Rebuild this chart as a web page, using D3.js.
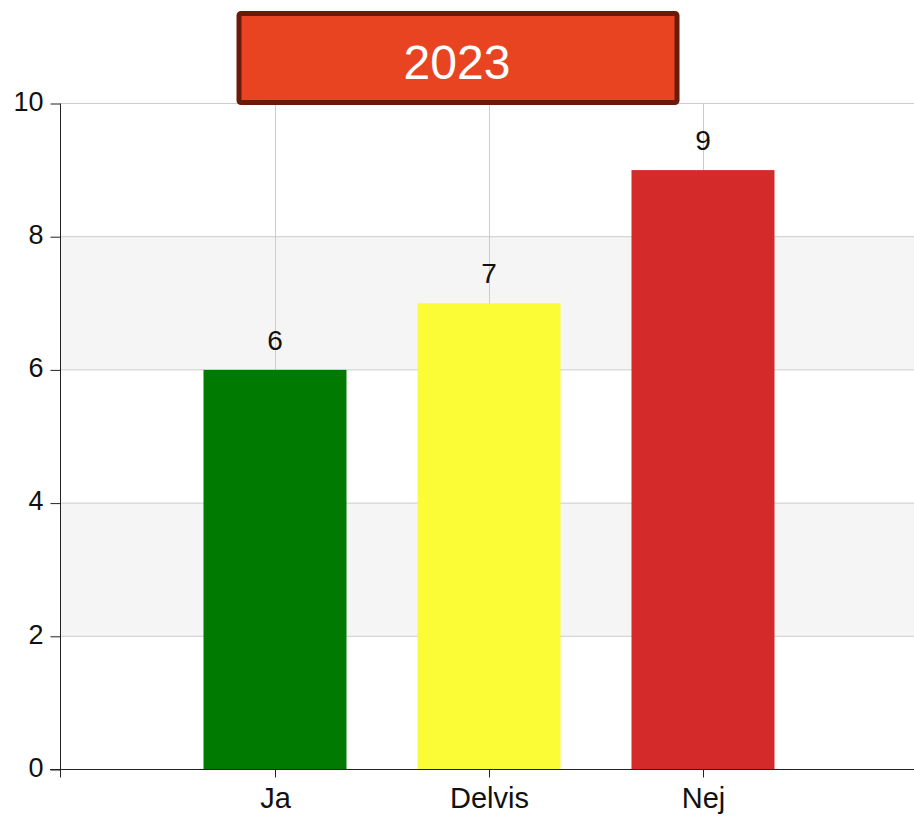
<!DOCTYPE html>
<html><head><meta charset="utf-8">
<script src="https://cdn.jsdelivr.net/npm/d3@7"></script>
<style>body{margin:0;background:#fff}svg{display:block}</style>
</head><body>
<svg id="c" width="914" height="816"></svg>
<script>
const categories = ["Ja", "Delvis", "Nej"];
const values = [6, 7, 9];
const colors = ["#007A00", "#FBFB36", "#D42A2A"];
const yTicks = [0, 2, 4, 6, 8, 10];
const title = "2023";

const FONT = "Liberation Sans, Arial, sans-serif";
const svg = d3.select("#c");
const mLeft = 61, mRight = 917, mTop = 103.5, mBottom = 769.5;
const x = d3.scaleLinear().domain([0, 4]).range([mLeft, mRight]);
const y = d3.scaleLinear().domain([0, 10]).range([mBottom, mTop]);
const barW = 143;

// alternating bands
const bands = [[2,4],[6,8]];
svg.selectAll("rect.band").data(bands).enter().append("rect")
  .attr("x", mLeft).attr("width", 914 - mLeft)
  .attr("y", d => y(d[1])).attr("height", d => y(d[0]) - y(d[1]))
  .attr("fill", "#F5F5F5");

// horizontal gridlines
svg.selectAll("line.hg").data(yTicks.slice(1)).enter().append("line")
  .attr("x1", mLeft).attr("x2", 914)
  .attr("y1", d => y(d)).attr("y2", d => y(d))
  .attr("stroke", "#CCCCCC").attr("stroke-width", 1);

// vertical gridlines
svg.selectAll("line.vg").data(categories).enter().append("line")
  .attr("x1", (d,i) => Math.round(x(i+1)) + 0.5).attr("x2", (d,i) => Math.round(x(i+1)) + 0.5)
  .attr("y1", mTop).attr("y2", mBottom)
  .attr("stroke", "#CCCCCC").attr("stroke-width", 1);

// bars
svg.selectAll("rect.bar").data(values).enter().append("rect")
  .attr("x", (d,i) => x(i+1) - barW/2).attr("width", barW)
  .attr("y", d => y(d)).attr("height", d => mBottom - y(d))
  .attr("fill", (d,i) => colors[i]);

// value labels
svg.selectAll("text.val").data(values).enter().append("text")
  .attr("x", (d,i) => x(i+1)).attr("y", d => y(d) - 20)
  .attr("text-anchor", "middle")
  .attr("font-family", FONT).attr("font-size", 28)
  .attr("fill", "#111").text(d => d);

// y axis
const yAxis = svg.append("g").attr("transform", `translate(${mLeft - 0.5},0)`)
  .call(d3.axisLeft(y).tickValues(yTicks).tickSize(10).tickSizeOuter(0).tickPadding(7));
yAxis.select("path").attr("d", `M0,${mTop}V${mBottom + 8}`);
yAxis.selectAll("text").attr("font-family", FONT).attr("font-size", 27).attr("fill", "#111").attr("dy", "0.25em");
yAxis.selectAll("line, path").attr("stroke", "#222");

// x axis
const xAxis = svg.append("g").attr("transform", `translate(0,${mBottom})`)
  .call(d3.axisBottom(x).tickValues([1,2,3]).tickFormat(d => categories[d-1]).tickSize(8).tickSizeOuter(0).tickPadding(10));
xAxis.select("path").attr("d", `M${mLeft - 11},0H914`);
xAxis.selectAll("text").attr("font-family", FONT).attr("font-size", 29).attr("fill", "#111");
xAxis.selectAll("line, path").attr("stroke", "#222");

// title box
svg.append("rect").attr("x", 239).attr("y", 13.5).attr("width", 438).attr("height", 89)
  .attr("rx", 2).attr("fill", "#E94421").attr("stroke", "#6B1A0A").attr("stroke-width", 5);
svg.append("text").attr("x", 457).attr("y", 79).attr("text-anchor", "middle")
  .attr("font-family", FONT).attr("font-size", 48)
  .attr("fill", "#fff").text(title);
</script>
</body></html>
